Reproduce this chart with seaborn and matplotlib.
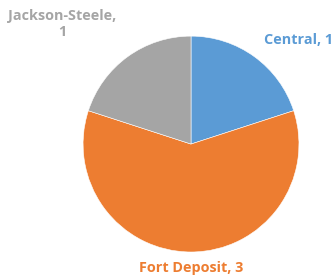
import matplotlib.pyplot as plt
import seaborn as sns

# data
schools = ["Central", "Fort Deposit", "Jackson-Steele"]
counts = [1, 3, 1]
colors = ["#5B9BD5", "#ED7D31", "#A5A5A5"]

sns.set_theme(style="white")
plt.rcParams['font.family'] = ['Open Sans', 'DejaVu Sans']

fig = plt.figure(figsize=(3.36, 2.8), dpi=100)
ax = fig.add_axes([0.247, 0.1, 0.643, 0.771])

wedges, _ = ax.pie(counts, colors=colors, startangle=90, counterclock=False,
                   wedgeprops={"edgecolor": "white", "linewidth": 0.4})
ax.set_xlim(-1, 1)
ax.set_ylim(-1, 1)
ax.axis("off")

# data labels, placed like the excel chart
label_pos = [(0.888, 0.857), (0.568, 0.043), (0.186, 0.913)]
label_text = [f"{s}, {c}" for s, c in zip(schools, counts)]
label_text[2] = f"{schools[2]},\n{counts[2]}"
for (x, y), txt, col in zip(label_pos, label_text, colors):
    fig.text(x, y, txt, color=col, fontsize=10.4, fontweight="bold",
             ha="center", va="center", linespacing=1.2)

plt.savefig("out.png", dpi=100)
